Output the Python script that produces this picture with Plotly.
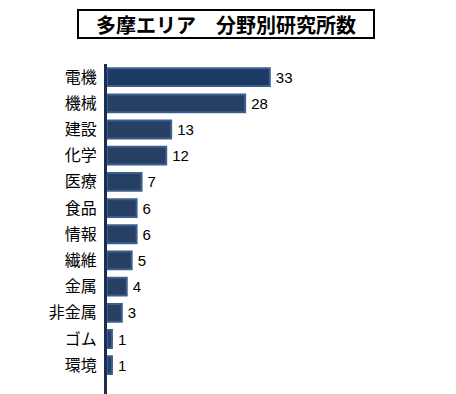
import plotly.graph_objects as go

categories = ["電機", "機械", "建設", "化学", "医療", "食品", "情報", "繊維", "金属", "非金属", "ゴム", "環境"]
values = [33, 28, 13, 12, 7, 6, 6, 5, 4, 3, 1, 1]
title_text = "多摩エリア　分野別研究所数"

# page body adds an 8px offset; positions below are in figure coordinates
W, H = 456, 394
L, T, B = 99, 56, 8
plot_w = 296

bar_colors = ["#1B3A64"] + ["#263F62"] * (len(values) - 1)

fig = go.Figure(go.Bar(
    x=values, y=categories, orientation="h",
    marker=dict(color=bar_colors, line=dict(color="#3D5F8F", width=2)),
    width=0.68,
    text=["\u2009" + str(v) for v in values], textposition="outside",
    textfont=dict(family="Liberation Sans, Arial", size=15, color="#000000"),
    cliponaxis=False,
))

fig.update_layout(
    width=W, height=H,
    margin=dict(l=L, r=W - L - plot_w, t=T, b=B, pad=0),
    paper_bgcolor="white", plot_bgcolor="white",
    showlegend=False,
    xaxis=dict(range=[0, 60], visible=False, showgrid=False, zeroline=False,
               automargin=False),
    yaxis=dict(
        categoryorder="array", categoryarray=categories,
        autorange=False, range=[12.1, -0.5],
        showline=True, linecolor="#1A2E4F", linewidth=3,
        ticks="", showgrid=False, zeroline=False, automargin=False,
        tickfont=dict(family="Noto Sans CJK JP", size=16, color="#000000"),
        ticklabelstandoff=4,
    ),
    annotations=[dict(
        text="<b>" + title_text + "</b>",
        xref="paper", yref="paper",
        x=(218 - L) / plot_w, y=(H - 16 - B) / (H - T - B),
        xanchor="center", yanchor="middle", showarrow=False,
        font=dict(family="Noto Sans CJK JP", size=20, color="#000000"),
        bordercolor="#000000", borderwidth=2, borderpad=1,
        bgcolor="white", width=292, height=24,
    )],
)

fig.write_html("out.html")
